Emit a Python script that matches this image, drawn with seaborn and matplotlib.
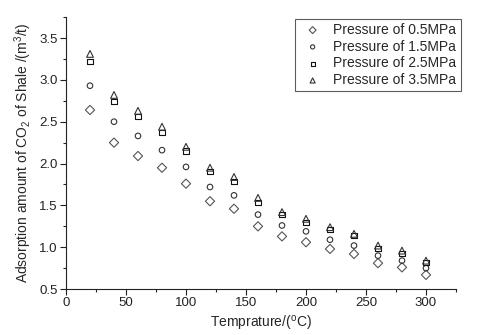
import pandas as pd
import matplotlib.pyplot as plt
import seaborn as sns
from matplotlib.ticker import MultipleLocator

# temperature (°C)
temp = [20, 40, 60, 80, 100, 120, 140, 160, 180, 200, 220, 240, 260, 280, 300]

# adsorption amount (m3/t) for each pressure
p05 = [2.64, 2.25, 2.09, 1.95, 1.76, 1.55, 1.46, 1.25, 1.13, 1.06, 0.98, 0.92, 0.81, 0.76, 0.67]
p15 = [2.93, 2.50, 2.33, 2.16, 1.96, 1.72, 1.62, 1.39, 1.26, 1.19, 1.09, 1.02, 0.90, 0.84, 0.75]
p25 = [3.22, 2.74, 2.56, 2.37, 2.15, 1.90, 1.79, 1.54, 1.39, 1.30, 1.21, 1.14, 0.98, 0.92, 0.82]
p35 = [3.31, 2.82, 2.63, 2.44, 2.20, 1.95, 1.84, 1.59, 1.42, 1.34, 1.24, 1.16, 1.02, 0.96, 0.84]

labels = ['Pressure of 0.5MPa', 'Pressure of 1.5MPa', 'Pressure of 2.5MPa', 'Pressure of 3.5MPa']

rows = []
for lab, vals in zip(labels, [p05, p15, p25, p35]):
    for t, v in zip(temp, vals):
        rows.append({'temp': t, 'ads': v, 'series': lab})
df = pd.DataFrame(rows)

sns.set_style('ticks')
plt.rcParams['font.family'] = ['Liberation Sans', 'DejaVu Sans']
plt.rcParams['mathtext.fontset'] = 'custom'
plt.rcParams['mathtext.rm'] = 'Liberation Sans'
plt.rcParams['mathtext.it'] = 'Liberation Sans'

fig = plt.figure(figsize=(4.8, 3.35), dpi=100)
ax = fig.add_axes([0.1375, 0.137, 0.8125, 0.812])

markers = {labels[0]: 'D', labels[1]: 'o', labels[2]: 's', labels[3]: '^'}
sizes = {labels[0]: 22, labels[1]: 16, labels[2]: 13, labels[3]: 24}
edges = {labels[0]: '#555555', labels[1]: '#333333', labels[2]: '#111111', labels[3]: '#333333'}

for lab in labels:
    sub = df[df['series'] == lab]
    sns.scatterplot(data=sub, x='temp', y='ads', marker=markers[lab], s=sizes[lab],
                    facecolor='none', edgecolor=edges[lab], linewidth=0.8,
                    label=lab, ax=ax)

ax.set_xlim(0, 325)
ax.set_ylim(0.5, 3.75)
ax.xaxis.set_major_locator(MultipleLocator(50))
ax.xaxis.set_minor_locator(MultipleLocator(25))
ax.yaxis.set_major_locator(MultipleLocator(0.5))
ax.yaxis.set_minor_locator(MultipleLocator(0.25))
ax.yaxis.set_major_formatter(plt.FormatStrFormatter('%.1f'))
ax.tick_params(which='major', direction='out', length=4, width=0.8, labelsize=9.5, colors='#222222', pad=2)
ax.tick_params(which='minor', direction='out', length=2, width=0.8)
sns.despine(ax=ax)
for s in ['left', 'bottom']:
    ax.spines[s].set_linewidth(0.8)
    ax.spines[s].set_color('#222222')

ax.set_xlabel('Temprature/($^{\\rm o}$C)', fontsize=10, labelpad=3)
ax.set_ylabel('Adsorption amount of CO$_2$ of Shale /(m$^3$/t)', fontsize=10, labelpad=4)

leg = ax.legend(loc='upper right', bbox_to_anchor=(1.03, 1.02), fontsize=10, frameon=True,
                fancybox=False, edgecolor='#333333', handletextpad=0.5, borderpad=0.3,
                labelspacing=0.2, handlelength=2.0, markerscale=0.75)
leg.get_frame().set_linewidth(0.8)

fig.savefig('out.png', dpi=100)
